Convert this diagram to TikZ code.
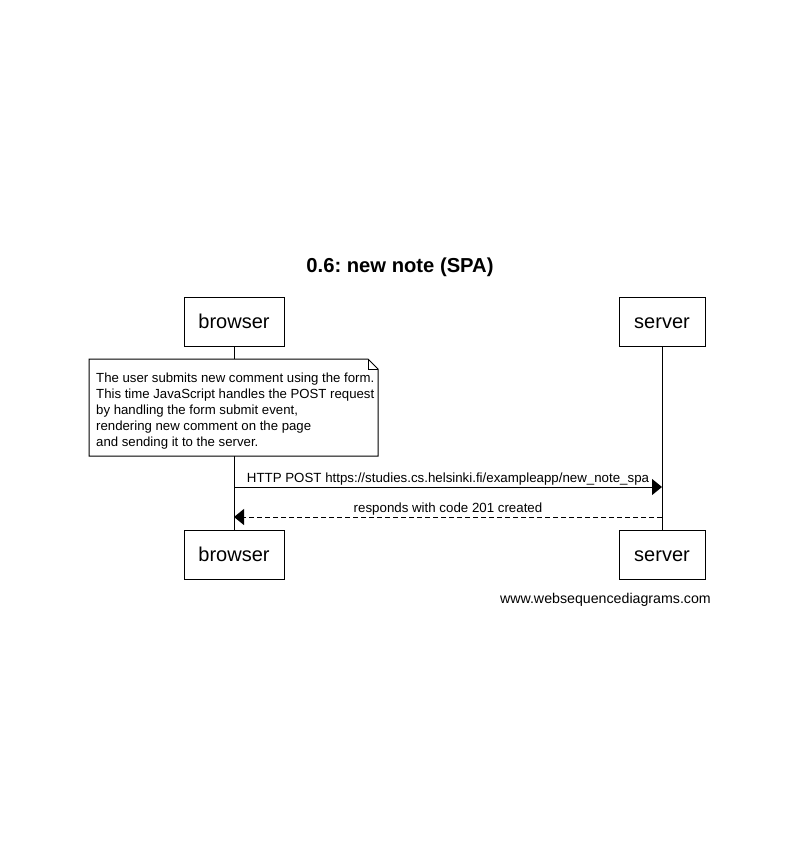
\documentclass[tikz,border=0pt]{standalone}
\usepackage{fontspec}
\setmainfont{Liberation Sans}
\usetikzlibrary{arrows.meta}
\frenchspacing
\tikzset{
  actor/.style={draw, line width=1pt, minimum height=49pt, inner sep=0pt,
    text height=17pt, text depth=3.5pt, font=\fontsize{20}{22}\selectfont},
  lifeline/.style={line width=1pt},
  msg/.style={line width=1pt, -{Triangle[length=10pt,width=16pt]}},
  reply/.style={msg, dash pattern=on 5pt off 3pt},
  msglabel/.style={above, inner sep=1pt, font=\fontsize{13.3}{15}\selectfont},
  notetext/.style={anchor=north west, inner sep=0pt, align=left,
    font=\fontsize{13.2}{16}\selectfont}
}
\begin{document}
\begin{tikzpicture}[x=1pt, y=-1pt]
\useasboundingbox (0,0) rectangle (798,842);

% Title
\node (title) at (400,267) {\fontsize{20.2}{24}\selectfont\bfseries 0.6: new note (SPA)};

% Participants, top and bottom
\node[actor, minimum width=100pt] (browser)    at (234,321.5) {browser};
\node[actor, minimum width=86pt]  (server)     at (662,321.5) {server};
\node[actor, minimum width=100pt] (browserEnd) at (234,554.5) {browser};
\node[actor, minimum width=86pt]  (serverEnd)  at (662,554.5) {server};

% Lifelines
\draw[lifeline] (browser) -- (browserEnd);
\draw[lifeline] (server) -- (serverEnd);

% Note with folded corner
\fill[white] (89,359) -- (368,359) -- (378,369) -- (378,456) -- (89,456) -- cycle;
\draw[line width=1pt] (89,359) -- (368,359) -- (378,369) -- (378,456) -- (89,456) -- cycle;
\draw[line width=1pt] (368,359) -- (368,369) -- (378,369);
\node[notetext] (note) at (96,373) {The user submits new comment using the form.\\
This time JavaScript handles the POST request\\
by handling the form submit event,\\
rendering new comment on the page\\
and sending it to the server.};

% Messages
\coordinate (postFrom) at (browser |- 0,487);
\coordinate (postTo)   at (server |- 0,487);
\coordinate (respFrom) at (server |- 0,517);
\coordinate (respTo)   at (browser |- 0,517);
\draw[msg] (postFrom) -- (postTo)
  node[msglabel, midway] (postLabel) {HTTP POST https://studies.cs.helsinki.fi/exampleapp/new\_note\_spa};
\draw[reply] (respFrom) -- (respTo)
  node[msglabel, midway] (respLabel) {responds with code 201 created};

% Watermark
\node[anchor=east, inner sep=0pt, font=\fontsize{14.2}{16}\selectfont] (credit) at (711,600) {www.websequencediagrams.com};

\end{tikzpicture}
\end{document}
